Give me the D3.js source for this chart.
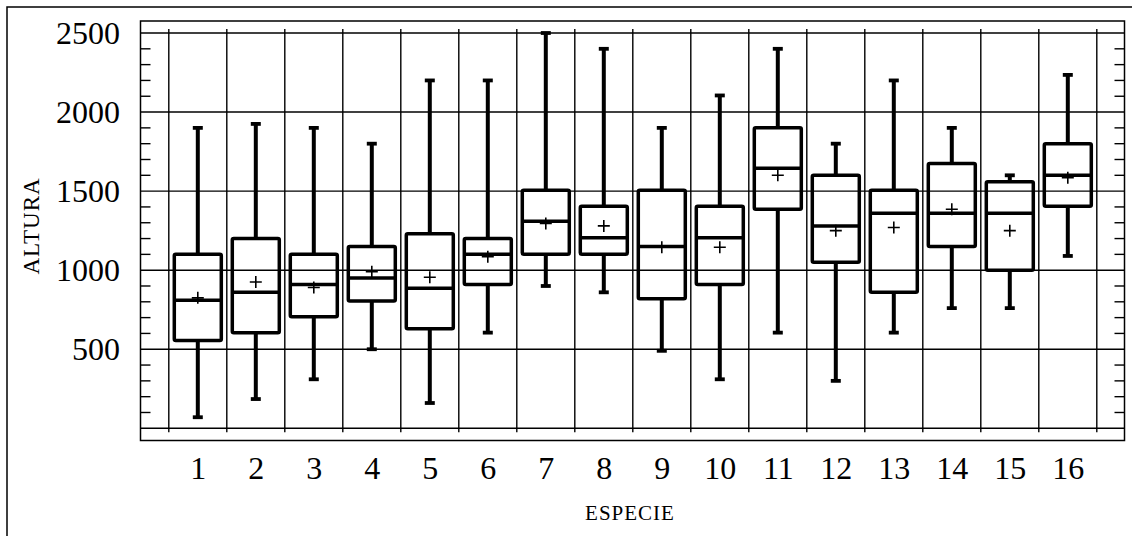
<!DOCTYPE html>
<html>
<head>
<meta charset="utf-8">
<script src="https://cdn.jsdelivr.net/npm/d3@7"></script>
<style>
  html, body { margin: 0; padding: 0; background: #fff; }
  svg { display: block; font-family: "Liberation Serif", "Times New Roman", serif; }
</style>
</head>
<body>
<svg id="chart" width="1132" height="536"></svg>
<script>
// ---- data ----
const categories  = ["1","2","3","4","5","6","7","8","9","10","11","12","13","14","15","16"];
const whiskerLow  = [70, 185, 310, 500, 160, 605, 900, 860, 490, 310, 605, 300, 605, 760, 760, 1090];
const q1          = [555, 605, 705, 805, 630, 910, 1100, 1100, 820, 910, 1385, 1050, 860, 1150, 1000, 1405];
const medians     = [810, 860, 910, 950, 885, 1100, 1310, 1205, 1150, 1205, 1645, 1280, 1360, 1360, 1360, 1600];
const q3          = [1100, 1200, 1100, 1150, 1230, 1200, 1505, 1405, 1505, 1405, 1900, 1600, 1505, 1675, 1560, 1800];
const whiskerHigh = [1900, 1925, 1900, 1800, 2200, 2200, 2500, 2400, 1900, 2105, 2400, 1800, 2200, 1900, 1600, 2235];
const means       = [825, 925, 890, 990, 955, 1085, 1295, 1280, 1145, 1145, 1600, 1250, 1270, 1385, 1250, 1585];
const yTickLabels = [500, 1000, 1500, 2000, 2500];
const yGridValues = [0, 500, 1000, 1500, 2000, 2500];
const yMinorValues = [100,200,300,400,600,700,800,900,1100,1200,1300,1400,1600,1700,1800,1900,2100,2200,2300,2400];
const xTitle = "ESPECIE";
const yTitle = "ALTURA";

const rows = categories.map((c, i) => ({
  cat: c, idx: i + 1,
  lo: whiskerLow[i], q1: q1[i], med: medians[i], q3: q3[i], hi: whiskerHigh[i], mean: means[i]
}));

// ---- layout ----
const frame = { left: 140.5, top: 21, right: 1124.5, bottom: 440.5 };
const svg = d3.select("#chart");

const x = d3.scaleLinear().domain([0.5, 16.5]).range([168.8, 1096.8]);
const y = d3.scaleLinear().domain([0, 2500]).range([428.3, 33]);

const boxW = 47, capW = 10, plusS = 6;

// outer frame (left and top visible)
svg.append("path")
  .attr("d", `M7,540 L7,7 L1140,7`)
  .attr("fill", "none").attr("stroke", "#000").attr("stroke-width", 1.5);

// inner frame
svg.append("rect")
  .attr("x", frame.left).attr("y", frame.top)
  .attr("width", frame.right - frame.left).attr("height", frame.bottom - frame.top)
  .attr("fill", "none").attr("stroke", "#000").attr("stroke-width", 1.5);

// horizontal grid lines
svg.append("g").selectAll("line").data(yGridValues).join("line")
  .attr("x1", frame.left).attr("x2", frame.right)
  .attr("y1", d => y(d)).attr("y2", d => y(d))
  .attr("stroke", "#000").attr("stroke-width", 1.4);

// vertical grid lines between categories
const vLines = d3.range(0.5, 17, 1);
svg.append("g").selectAll("line").data(vLines).join("line")
  .attr("x1", d => x(d)).attr("x2", d => x(d))
  .attr("y1", y(2500) - 4).attr("y2", y(0) + 4)
  .attr("stroke", "#000").attr("stroke-width", 1.4);

// minor ticks left and right
const minor = svg.append("g");
minor.selectAll("line.l").data(yMinorValues).join("line").attr("class", "l")
  .attr("x1", frame.left).attr("x2", frame.left + 10)
  .attr("y1", d => y(d)).attr("y2", d => y(d))
  .attr("stroke", "#000").attr("stroke-width", 1.4);
minor.selectAll("line.r").data(yMinorValues).join("line").attr("class", "r")
  .attr("x1", frame.right - 10).attr("x2", frame.right)
  .attr("y1", d => y(d)).attr("y2", d => y(d))
  .attr("stroke", "#000").attr("stroke-width", 1.4);

// ---- boxes ----
const g = svg.append("g").selectAll("g").data(rows).join("g");

// whiskers
g.append("line")
  .attr("x1", d => x(d.idx)).attr("x2", d => x(d.idx))
  .attr("y1", d => y(d.hi)).attr("y2", d => y(d.q3))
  .attr("stroke", "#000").attr("stroke-width", 4);
g.append("line")
  .attr("x1", d => x(d.idx)).attr("x2", d => x(d.idx))
  .attr("y1", d => y(d.q1)).attr("y2", d => y(d.lo))
  .attr("stroke", "#000").attr("stroke-width", 4);
// caps
g.append("line")
  .attr("x1", d => x(d.idx) - capW / 2).attr("x2", d => x(d.idx) + capW / 2)
  .attr("y1", d => y(d.hi)).attr("y2", d => y(d.hi))
  .attr("stroke", "#000").attr("stroke-width", 3.8);
g.append("line")
  .attr("x1", d => x(d.idx) - capW / 2).attr("x2", d => x(d.idx) + capW / 2)
  .attr("y1", d => y(d.lo)).attr("y2", d => y(d.lo))
  .attr("stroke", "#000").attr("stroke-width", 3.8);
// box
g.append("rect")
  .attr("x", d => x(d.idx) - boxW / 2).attr("width", boxW)
  .attr("y", d => y(d.q3)).attr("height", d => y(d.q1) - y(d.q3))
  .attr("rx", 1.5)
  .attr("fill", "none").attr("stroke", "#000").attr("stroke-width", 3.5);
// median
g.append("line")
  .attr("x1", d => x(d.idx) - boxW / 2).attr("x2", d => x(d.idx) + boxW / 2)
  .attr("y1", d => y(d.med)).attr("y2", d => y(d.med))
  .attr("stroke", "#000").attr("stroke-width", 3.5);
// mean plus
g.append("path")
  .attr("d", d => {
    const cx = x(d.idx), cy = y(d.mean);
    return `M${cx - plusS},${cy} L${cx + plusS},${cy} M${cx},${cy - plusS} L${cx},${cy + plusS}`;
  })
  .attr("fill", "none").attr("stroke", "#000").attr("stroke-width", 1.6);

// ---- axes labels ----
const yAxis = svg.append("g")
  .attr("transform", "translate(120,0)")
  .call(d3.axisLeft(y).tickValues(yTickLabels).tickSize(0).tickPadding(0).tickFormat(d3.format("d")));
yAxis.select(".domain").remove();
yAxis.selectAll("text").attr("font-size", 32).attr("font-family", "Liberation Serif").attr("fill", "#000");

const xAxis = svg.append("g")
  .attr("transform", "translate(0,456.5)")
  .call(d3.axisBottom(d3.scalePoint().domain(categories).range([x(1), x(16)])).tickSize(0).tickPadding(0));
xAxis.select(".domain").remove();
xAxis.selectAll("text").attr("font-size", 32).attr("font-family", "Liberation Serif").attr("fill", "#000");

// titles
svg.append("text")
  .attr("x", 630).attr("y", 520)
  .attr("text-anchor", "middle")
  .attr("font-size", 21)
  .attr("letter-spacing", 1)
  .text(xTitle);
svg.append("text")
  .attr("transform", "translate(39,226) rotate(-90)")
  .attr("text-anchor", "middle")
  .attr("font-size", 23)
  .attr("letter-spacing", 1)
  .text(yTitle);
</script>
</body>
</html>
